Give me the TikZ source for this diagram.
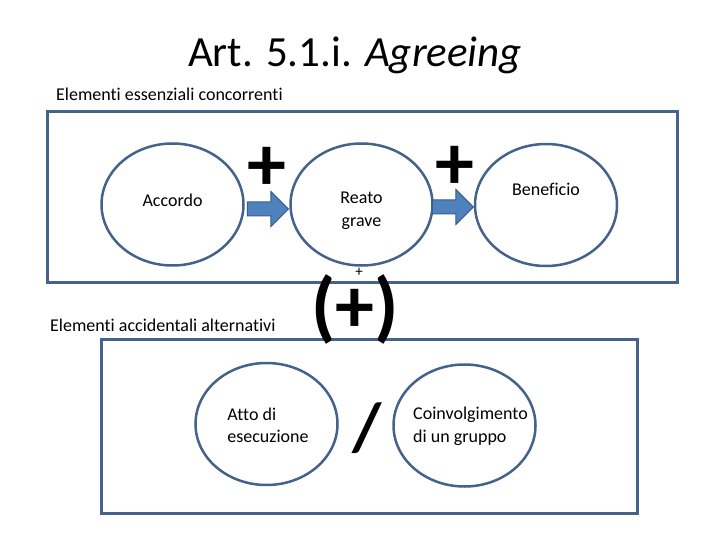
\documentclass[tikz,border=0pt]{standalone}
\usepackage{fontspec}
\setmainfont{Carlito}[Ligatures=NoCommon]
\usetikzlibrary{shapes.geometric,shapes.arrows}
\definecolor{framecol}{HTML}{45628B}
\definecolor{arrowfill}{HTML}{4F81BD}
\definecolor{arrowline}{HTML}{3A5E8C}
\begin{document}
\begin{tikzpicture}[x=1pt, y=-1pt,
  frame/.style={draw=framecol, line width=3pt, inner sep=0pt},
  element/.style={ellipse, draw=framecol, line width=2.5pt, minimum width=142pt, minimum height=122pt, inner sep=0pt},
  elementtext/.style={inner sep=0pt, align=left, font=\fontsize{18}{22.5}\selectfont},
  link/.style={single arrow, draw=arrowline, fill=arrowfill, line width=1pt, minimum height=41pt, inner sep=6.5pt, single arrow head extend=10.5pt},
  sign/.style={inner sep=0pt, font=\fontsize{78}{78}\selectfont\bfseries}]
  \useasboundingbox (0,0) rectangle (720,540);
  \node[anchor=base, font=\fontsize{43}{46}\selectfont] (title) at (355,67) {Art. 5.1.i. \textit{Agreeing}};
  \node[anchor=base west, inner sep=0pt, font=\fontsize{18}{20}\selectfont] (esstitle) at (56,101) {Elementi essenziali concorrenti};
  \node[frame, minimum width=630pt, minimum height=170pt] (essbox) at (362,197) {};
  \node[anchor=base west, inner sep=0pt, font=\fontsize{18}{20}\selectfont] (acctitle) at (50,331) {Elementi accidentali alternativi};
  \node[frame, minimum width=536pt, minimum height=174pt] (accbox) at (369,426) {};
  % elementi essenziali
  \node[element, label={[elementtext, yshift=4.5pt]center:Accordo}] (accordo) at (172.5,204.5) {};
  \node[element, label={[elementtext, align=center, yshift=-6.5pt]center:Reato\\grave}] (reato) at (361.5,204.5) {};
  \node[element, label={[elementtext, yshift=16pt]center:Beneficio}] (beneficio) at (546,205) {};
  \node[link, anchor=tip] (arrow1) at (289,209) {};
  \node[link, anchor=tip] (arrow2) at (474,207) {};
  \node[sign] (plus1) at (267,169) {+};
  \node[sign] (plus2) at (455,168) {+};
  \node[inner sep=0pt, font=\fontsize{15}{15}\selectfont] (plussmall) at (359,272) {+};
  \node[sign] (plusor) at (355,309) {(+)};
  % elementi accidentali
  \node[element, label={[elementtext, yshift=-1.5pt, xshift=1.5pt]center:Atto di\\esecuzione}] (atto) at (266.5,424) {};
  \node[element, label={[elementtext, yshift=-1pt, xshift=6pt]center:Coinvolgimento\\di un gruppo}] (gruppo) at (464.5,425.5) {};
  \node[sign, font=\fontsize{68}{68}\selectfont\bfseries] (slash) at (367,428) {/};
\end{tikzpicture}
\end{document}
